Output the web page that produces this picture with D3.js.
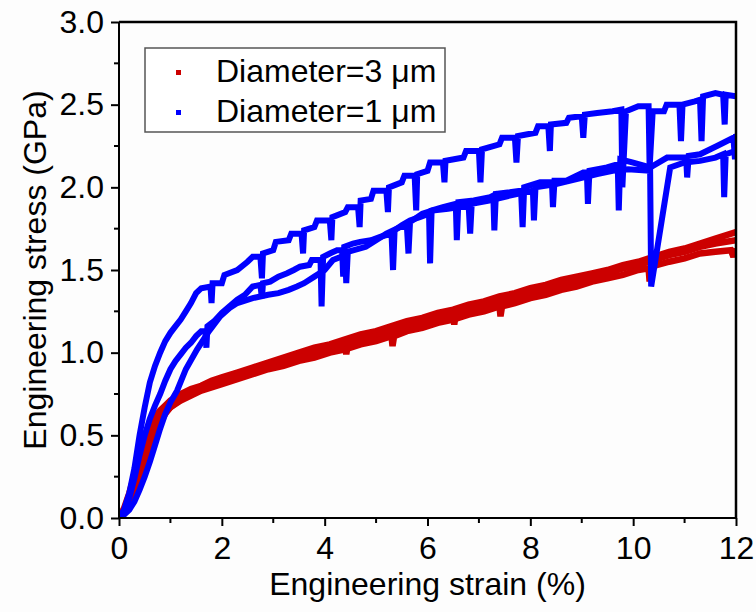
<!DOCTYPE html>
<html>
<head>
<meta charset="utf-8">
<script src="https://cdn.jsdelivr.net/npm/d3@7"></script>
<style>
  html, body { margin: 0; padding: 0; background: #fdfdfd; }
  text { font-family: "Liberation Sans", Arial, sans-serif; fill: #000; }
</style>
</head>
<body>
<svg id="chart" width="756" height="612"></svg>
<script>
// ---- data (strain %, stress GPa) ----
const xTickValues = [0, 2, 4, 6, 8, 10, 12];
const yTickValues = [0.0, 0.5, 1.0, 1.5, 2.0, 2.5, 3.0];
const legendLabels = ["Diameter=3 \u03bcm", "Diameter=1 \u03bcm"];

const red1 = [[0,0],[0.1,0.06],[0.2,0.15],[0.3,0.26],[0.4,0.38],[0.5,0.48],[0.6,0.56],[0.7,0.61],[0.8,0.65],[0.9,0.68],[1.0,0.71],[1.2,0.75],[1.4,0.78],[1.6,0.80],[1.8,0.83],[2.0,0.85],[2.3,0.88],[2.6,0.91],[2.9,0.94],[3.2,0.97],[3.5,1.0],[3.8,1.03],[4.1,1.05],[4.4,1.08],[4.7,1.11],[5.0,1.13],[5.3,1.16],[5.6,1.19],[5.9,1.21],[6.2,1.24],[6.5,1.26],[6.8,1.29],[7.1,1.31],[7.4,1.34],[7.7,1.36],[8.0,1.39],[8.3,1.41],[8.6,1.44],[8.9,1.46],[9.2,1.48],[9.5,1.50],[9.8,1.53],[10.1,1.55],[10.4,1.58],[10.7,1.61],[11.0,1.63],[11.3,1.66],[11.6,1.69],[12,1.73]];
const red2 = [[0,0],[0.1,0.03],[0.2,0.09],[0.3,0.17],[0.4,0.26],[0.5,0.35],[0.6,0.44],[0.7,0.52],[0.8,0.58],[0.9,0.63],[1.0,0.67],[1.2,0.72],[1.4,0.76],[1.6,0.79],[1.8,0.81],[2.0,0.83],[2.3,0.86],[2.6,0.89],[2.9,0.92],[3.2,0.95],[3.5,0.97],[3.8,1.0],[4.1,1.02],[4.4,1.05],[4.42,0.99],[4.45,1.05],[4.7,1.08],[5.0,1.10],[5.3,1.13],[5.6,1.16],[5.9,1.18],[6.2,1.21],[6.5,1.23],[6.52,1.17],[6.55,1.24],[6.8,1.26],[7.1,1.28],[7.4,1.31],[7.7,1.33],[8.0,1.36],[8.3,1.38],[8.6,1.41],[8.9,1.43],[9.2,1.46],[9.5,1.48],[9.8,1.51],[10.1,1.53],[10.4,1.56],[10.7,1.59],[11.0,1.61],[11.3,1.64],[11.6,1.66],[12,1.68]];
const red3 = [[0,0],[0.1,0.05],[0.2,0.12],[0.3,0.21],[0.4,0.31],[0.5,0.41],[0.6,0.5],[0.7,0.56],[0.8,0.6],[0.9,0.64],[1.0,0.67],[1.2,0.71],[1.4,0.74],[1.6,0.77],[1.8,0.79],[2.0,0.81],[2.3,0.84],[2.6,0.87],[2.9,0.9],[3.2,0.92],[3.5,0.95],[3.8,0.97],[4.1,1.0],[4.4,1.02],[4.7,1.05],[5.0,1.07],[5.3,1.10],[5.32,1.04],[5.35,1.10],[5.6,1.13],[5.9,1.15],[6.2,1.18],[6.5,1.2],[6.8,1.23],[7.1,1.25],[7.4,1.28],[7.42,1.22],[7.45,1.28],[7.7,1.3],[8.0,1.33],[8.3,1.35],[8.6,1.38],[8.9,1.40],[9.2,1.43],[9.5,1.45],[9.8,1.47],[10.1,1.5],[10.3,1.51],[10.32,1.43],[10.35,1.52],[10.7,1.55],[11.0,1.57],[11.3,1.6],[11.6,1.61],[11.9,1.62],[11.95,1.58],[12,1.63]];

const blue1 = [[0,0],[0.1,0.05],[0.2,0.15],[0.3,0.3],[0.4,0.5],[0.5,0.67],[0.6,0.82],[0.7,0.92],[0.8,1.0],[0.9,1.07],[1.0,1.12],[1.1,1.16],[1.2,1.2],[1.3,1.25],[1.4,1.3],[1.5,1.36],[1.6,1.39],[1.78,1.40],[1.8,1.30],[1.82,1.42],[2.0,1.42],[2.05,1.47],[2.3,1.5],[2.5,1.55],[2.6,1.58],[2.75,1.58],[2.78,1.45],[2.8,1.6],[3.0,1.62],[3.05,1.67],[3.3,1.68],[3.35,1.72],[3.55,1.72],[3.58,1.6],[3.6,1.74],[3.8,1.76],[3.85,1.8],[4.1,1.8],[4.13,1.68],[4.15,1.82],[4.4,1.85],[4.45,1.88],[4.65,1.88],[4.68,1.76],[4.7,1.92],[4.9,1.93],[4.95,1.98],[5.2,1.98],[5.23,1.85],[5.25,2.0],[5.5,2.03],[5.55,2.07],[5.75,2.07],[5.78,1.86],[5.8,2.08],[6.0,2.1],[6.05,2.15],[6.3,2.15],[6.33,2.03],[6.35,2.16],[6.7,2.18],[6.75,2.22],[7.0,2.22],[7.03,2.03],[7.06,2.23],[7.4,2.26],[7.45,2.3],[7.7,2.3],[7.73,2.15],[7.76,2.31],[8.1,2.33],[8.15,2.37],[8.35,2.37],[8.38,2.22],[8.4,2.38],[8.7,2.39],[8.75,2.42],[9.0,2.43],[9.03,2.3],[9.06,2.44],[9.3,2.45],[9.6,2.46],[9.77,2.47],[9.79,2.0],[9.86,2.46],[10.1,2.49],[10.3,2.49],[10.32,2.12],[10.38,2.46],[10.6,2.46],[10.65,2.5],[10.9,2.5],[10.93,2.28],[10.96,2.5],[11.2,2.52],[11.3,2.53],[11.33,2.28],[11.36,2.55],[11.6,2.57],[11.75,2.56],[11.78,2.38],[11.8,2.56],[12,2.55]];
const blue2 = [[0,0],[0.1,0.04],[0.2,0.12],[0.3,0.24],[0.4,0.38],[0.5,0.5],[0.6,0.6],[0.7,0.68],[0.8,0.75],[0.9,0.83],[1.0,0.9],[1.1,0.95],[1.2,0.99],[1.3,1.03],[1.4,1.06],[1.5,1.1],[1.6,1.13],[1.68,1.13],[1.7,1.03],[1.72,1.16],[1.85,1.19],[2.0,1.24],[2.15,1.28],[2.3,1.32],[2.45,1.35],[2.6,1.4],[2.75,1.41],[2.78,1.33],[2.8,1.42],[2.94,1.43],[3.1,1.46],[3.27,1.48],[3.4,1.5],[3.52,1.52],[3.7,1.53],[3.75,1.56],[3.92,1.56],[3.94,1.28],[3.97,1.58],[4.1,1.6],[4.24,1.62],[4.34,1.62],[4.36,1.46],[4.38,1.64],[4.55,1.66],[4.69,1.67],[4.9,1.68],[5.08,1.70],[5.3,1.72],[5.33,1.50],[5.36,1.74],[5.5,1.77],[5.66,1.80],[5.85,1.82],[6.03,1.84],[6.05,1.54],[6.08,1.86],[6.3,1.88],[6.55,1.9],[6.57,1.68],[6.6,1.91],[6.9,1.92],[7.22,1.94],[7.28,1.95],[7.3,1.74],[7.33,1.96],[7.6,1.97],[7.82,1.98],[7.85,1.76],[7.88,2.0],[8.19,2.03],[8.42,2.03],[8.44,1.88],[8.47,2.04],[8.7,2.04],[9.03,2.09],[9.1,2.09],[9.12,1.9],[9.15,2.1],[9.49,2.12],[9.7,2.14],[9.72,1.86],[9.75,2.17],[10.0,2.15],[10.33,2.12],[10.66,2.18],[10.97,2.18],[11.03,2.18],[11.05,2.06],[11.08,2.19],[11.3,2.2],[11.63,2.25],[11.95,2.3],[11.98,2.17],[12,2.32]];
const blue3 = [[0,0],[0.1,0.02],[0.2,0.05],[0.3,0.1],[0.4,0.17],[0.5,0.25],[0.6,0.34],[0.7,0.44],[0.8,0.54],[0.9,0.63],[1.0,0.7],[1.13,0.77],[1.3,0.9],[1.52,1.02],[1.75,1.13],[1.97,1.22],[2.15,1.27],[2.3,1.3],[2.6,1.33],[2.9,1.35],[3.1,1.36],[3.3,1.38],[3.46,1.40],[3.6,1.42],[3.8,1.46],[4.0,1.5],[4.16,1.56],[4.4,1.59],[4.42,1.42],[4.45,1.61],[4.8,1.64],[5.0,1.68],[5.2,1.72],[5.47,1.76],[5.6,1.76],[5.63,1.6],[5.66,1.79],[5.9,1.84],[6.1,1.86],[6.4,1.87],[6.8,1.89],[6.83,1.72],[6.86,1.9],[7.2,1.92],[7.6,1.95],[8.05,1.98],[8.07,1.8],[8.1,2.0],[8.5,2.02],[8.9,2.05],[9.3,2.08],[9.6,2.1],[9.9,2.11],[10.33,2.1],[10.35,1.40],[10.72,2.12],[11.0,2.15],[11.3,2.16],[11.6,2.18],[11.75,2.2],[11.77,1.94],[11.8,2.2],[12,2.22]];

const redSeries = [red1, red2, red3];
const blueSeries = [blue1, blue2, blue3];

// ---- layout ----
const svg = d3.select("#chart");
const m = { left: 119, right: 736, top: 22, bottom: 518 };
const x = d3.scaleLinear().domain([0, 12]).range([m.left, m.right]);
const y = d3.scaleLinear().domain([0, 3]).range([m.bottom, m.top]);

svg.append("defs").append("clipPath").attr("id", "plotclip")
  .append("rect").attr("x", m.left).attr("y", m.top)
  .attr("width", m.right - m.left).attr("height", m.bottom - m.top);

const line = d3.line().x(d => x(d[0])).y(d => y(d[1]));
const plot = svg.append("g").attr("clip-path", "url(#plotclip)");

plot.selectAll("path.red").data(redSeries).join("path")
  .attr("class", "red").attr("d", line)
  .attr("fill", "none").attr("stroke", "#cc0000")
  .attr("stroke-width", 6.5).attr("stroke-linejoin", "miter").attr("stroke-miterlimit", 2);

plot.selectAll("path.blue").data(blueSeries).join("path")
  .attr("class", "blue").attr("d", line)
  .attr("fill", "none").attr("stroke", "#0000ff")
  .attr("stroke-width", 6).attr("stroke-linejoin", "miter").attr("stroke-miterlimit", 2);

// ---- axes ----
const fs = 32;
const xAxis = d3.axisBottom(x).tickValues(xTickValues).tickFormat(d3.format("d"))
  .tickSize(8).tickPadding(10);
const gx = svg.append("g").attr("transform", `translate(0,${m.bottom})`).call(xAxis);
gx.selectAll("text").attr("font-size", fs).attr("dy", "0.71em");
const yAxis = d3.axisLeft(y).tickValues(yTickValues).tickFormat(d3.format(".1f"))
  .tickSize(8).tickPadding(7);
const gy = svg.append("g").attr("transform", `translate(${m.left},0)`).call(yAxis);
gy.selectAll("text").attr("font-size", fs);

// minor ticks
const xMinor = d3.range(1, 12, 2);
svg.append("g").selectAll("line").data(xMinor).join("line")
  .attr("x1", d => x(d)).attr("x2", d => x(d))
  .attr("y1", m.bottom).attr("y2", m.bottom + 5)
  .attr("stroke", "#000").attr("stroke-width", 2);
const yMinor = [0.25, 0.75, 1.25, 1.75, 2.25, 2.75];
svg.append("g").selectAll("line").data(yMinor).join("line")
  .attr("x1", m.left - 5).attr("x2", m.left)
  .attr("y1", d => y(d)).attr("y2", d => y(d))
  .attr("stroke", "#000").attr("stroke-width", 2);

[gx, gy].forEach(g => {
  g.select(".domain").attr("stroke", "#000").attr("stroke-width", 2);
  g.selectAll(".tick line").attr("stroke", "#000").attr("stroke-width", 2);
  g.selectAll("text").attr("font-family", "Liberation Sans, Arial, sans-serif").attr("fill", "#000");
});

// frame top/right
svg.append("path")
  .attr("d", `M${m.left},${m.top}H${m.right}V${m.bottom}`)
  .attr("fill", "none").attr("stroke", "#000").attr("stroke-width", 2.5);
gx.select(".domain").attr("d", `M${m.left},0H${m.right}`);
gy.select(".domain").attr("d", `M0,${m.top}V${m.bottom}`);

// titles
svg.append("text").attr("x", (m.left + m.right) / 2).attr("y", 595)
  .attr("text-anchor", "middle").attr("font-size", fs)
  .text("Engineering strain (%)");
svg.append("text").attr("transform", `translate(46,${(m.top + m.bottom) / 2}) rotate(-90)`)
  .attr("text-anchor", "middle").attr("font-size", fs)
  .text("Engineering stress (GPa)");

// legend
const lg = svg.append("g");
lg.append("rect").attr("x", 145).attr("y", 48).attr("width", 300).attr("height", 84)
  .attr("fill", "#fff").attr("stroke", "#555").attr("stroke-width", 1.5);
const legendColors = ["#cc0000", "#0000ff"];
legendLabels.forEach((t, i) => {
  lg.append("rect").attr("x", 176).attr("y", 70 + i * 40).attr("width", 5).attr("height", 5)
    .attr("fill", legendColors[i]);
  lg.append("text").attr("x", 216).attr("y", 82 + i * 40).attr("font-size", fs).text(t);
});
</script>
</body>
</html>
